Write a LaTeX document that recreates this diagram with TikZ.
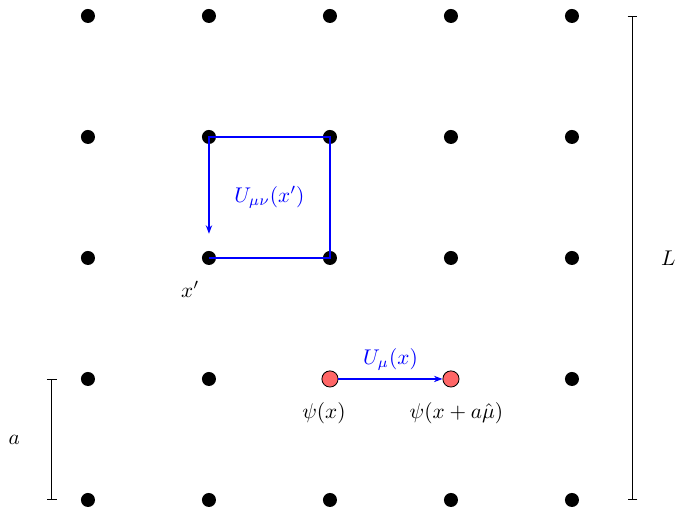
\documentclass[tikz,border=0pt]{standalone}
\usepackage{amsmath,amssymb}
\usepackage{tikz}
\usetikzlibrary{arrows.meta,positioning,calc}
\definecolor{Quark}{HTML}{FF6666}

\begin{document}
\begin{tikzpicture}[x=2cm,y=2cm,>={Stealth[length=4pt,width=3pt]}]
  \tikzstyle{site}=[circle,fill=black,inner sep=0pt,minimum size=6.6pt]
  \tikzstyle{quark}=[circle,draw=black,fill=Quark,inner sep=0pt,minimum size=7.6pt]
  \tikzstyle{link}=[color=blue,line width=0.6pt]
  \tikzstyle{lab}=[text=blue]
  \useasboundingbox (-0.727,-0.05) rectangle (4.868,4.132);
  % lattice sites
  \foreach \x in {0,...,4}
    \foreach \y in {0,2,3,4}
      \node[site] (d\x\y) at (\x,\y) {};
  \foreach \x in {0,1,4}
    \node[site] (d\x1) at (\x,1) {};
  % plaquette
  \coordinate (p) at (1,2.2);
  \draw[link,->] (d12.center) -- (d22.center) -- (d23.center) -- (d13.center) -- (p);
  \node[lab] (ul) at (1.5,2.5) {$U_{\mu\nu}(x')$};
  \node[below left=0.17cm and -0.05cm of d12] (xp) {$x'$};
  % link between quark fields
  \node[quark] (q1) at (2,1) {};
  \node[quark] (q2) at (3,1) {};
  \draw[link,->] (q1) -- (q2);
  \node[lab,above=0.2mm of $(q1)!0.5!(q2)$] (um) {$U_\mu(x)$};
  \node[below=1.3mm of q1,xshift=-0.1cm] (psi1) {$\psi(x)$};
  \node[below=1.3mm of q2,xshift=0.09cm] (psi2) {$\psi(x+a\hat{\mu})$};
  % scales
  \coordinate (a0) at (-0.3,0);
  \coordinate (a1) at (-0.3,1);
  \draw[|-|] (a0) -- (a1) node[midway,left=0.4cm] (la) {$a$};
  \coordinate (l0) at (4.5,0);
  \coordinate (l1) at (4.5,4);
  \draw[|-|] (l0) -- (l1) node[midway,right=0.35cm] (ll) {$L$};
\end{tikzpicture}
\end{document}
